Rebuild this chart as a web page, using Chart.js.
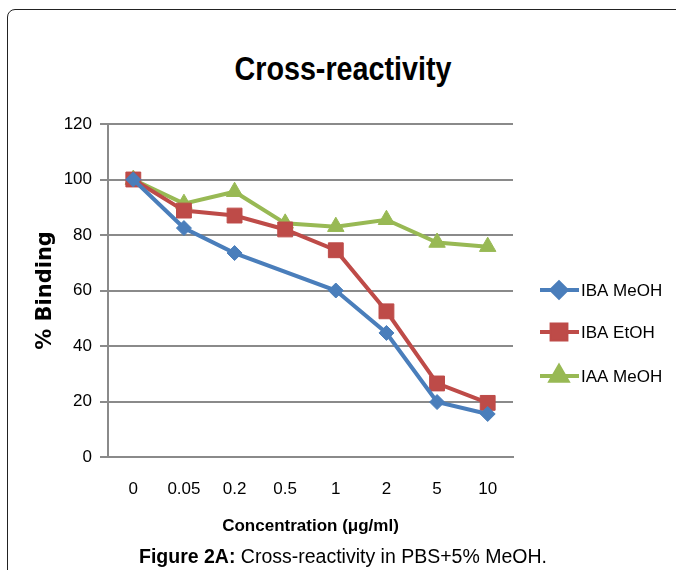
<!DOCTYPE html>
<html>
<head>
<meta charset="utf-8">
<script src="https://cdn.jsdelivr.net/npm/chart.js@4"></script>
<style>
    body { margin: 0; width: 676px; height: 570px; overflow: hidden; background: #fff; position: relative; }
    #frame { position: absolute; left: 7px; top: 9px; width: 720px; height: 620px; border: 1px solid #222; border-top-left-radius: 8px; }
    #wrap { position: absolute; left: 0; top: 0; width: 676px; height: 570px; }
    #title { position: absolute; left: 0; width: 686px; top: 50px; text-align: center;
        font: bold 33px "Liberation Sans", Arial, sans-serif; color: #000;
        transform: scaleX(0.87); transform-origin: 343px 0; }
    #caption { position: absolute; left: 0; width: 686px; top: 545px; text-align: center;
        font: 19.5px "Liberation Sans", Arial, sans-serif; color: #000; }
</style>
</head>
<body>
<div id="frame"></div>
<div id="title">Cross-reactivity</div>
<div id="wrap"><canvas id="crossChart" width="676" height="570"></canvas></div>
<div id="caption"><b>Figure 2A:</b> Cross-reactivity in PBS+5% MeOH.</div>

<script>
/* ================= DATA ================= */

const concentrations = ['0', '0.05', '0.2', '0.5', '1', '2', '5', '10'];

const ibaMeoh = [100, 82.5, 73.5, null, 60, 44.7, 19.8, 15.5];
const ibaEtoh = [100, 88.8, 87, 82, 74.5, 52.5, 26.5, 19.5];
const iaaMeoh = [100, 91.3, 95.6, 84.2, 83, 85.5, 77.3, 75.8];

const yTicks = [0, 20, 40, 60, 80, 100, 120];

const sans = '"Liberation Sans", Arial, sans-serif';

/* ================= LEGEND (line + marker samples) ================= */

const sideLegend = {
    id: 'sideLegend',
    afterDraw(chart) {
        const ctx = chart.ctx;
        const rows = [290, 332, 376];
        chart.data.datasets.forEach(function(ds, i) {
            const y = rows[i];
            ctx.save();
            ctx.strokeStyle = ds.borderColor;
            ctx.lineWidth = 4;
            ctx.beginPath();
            ctx.moveTo(540, y);
            ctx.lineTo(579, y);
            ctx.stroke();
            Chart.helpers.drawPoint(ctx, {
                pointStyle: ds.pointStyle,
                radius: ds.pointRadius,
                borderWidth: 1
            }, 559, y);
            ctx.fillStyle = ds.borderColor;
            ctx.fill();
            ctx.fillStyle = '#000';
            ctx.font = '17px ' + sans;
            ctx.textBaseline = 'middle';
            ctx.fillText(ds.label, 581, y + 1);
            ctx.restore();
        });
    }
};

/* ================= CHART ================= */

new Chart(document.getElementById('crossChart'), {

    type: 'line',

    data: {
        labels: concentrations,
        datasets: [{
            label: 'IBA MeOH',
            data: ibaMeoh,
            borderColor: '#4a7ebb',
            backgroundColor: '#4a7ebb',
            pointStyle: 'rectRot',
            pointRadius: 7.5
        }, {
            label: 'IBA EtOH',
            data: ibaEtoh,
            borderColor: '#be4b48',
            backgroundColor: '#be4b48',
            pointStyle: 'rect',
            pointRadius: 10.5
        }, {
            label: 'IAA MeOH',
            data: iaaMeoh,
            borderColor: '#98b954',
            backgroundColor: '#98b954',
            pointStyle: 'triangle',
            pointRadius: 9.5
        }]
    },

    options: {
        responsive: false,
        animation: false,
        spanGaps: true,
        elements: {
            line: { borderWidth: 4, tension: 0 },
            point: { borderWidth: 1 }
        },
        layout: {
            padding: { top: 124, right: 163, left: 33, bottom: 33 }
        },
        plugins: {
            legend: { display: false },
            tooltip: { enabled: false }
        },
        scales: {
            x: {
                offset: true,
                grid: { display: false, drawTicks: false },
                border: { color: '#8a8a8a', width: 2 },
                ticks: {
                    color: '#000',
                    padding: 22,
                    font: { family: sans, size: 17 }
                },
                title: {
                    display: true,
                    text: 'Concentration (μg/ml)',
                    color: '#000',
                    padding: { top: 0, bottom: 0 },
                    font: { family: sans, size: 17, weight: 'bold' }
                },
                afterFit: function(scale) { scale.height = 570 - 457 - 33; }
            },
            y: {
                min: 0,
                max: 120,
                afterBuildTicks: function(scale) {
                    scale.ticks = yTicks.map(v => ({ value: v }));
                },
                grid: { color: '#8a8a8a', lineWidth: 2, tickLength: 8 },
                border: { color: '#8a8a8a', width: 2 },
                ticks: {
                    color: '#000',
                    padding: 8,
                    font: { family: sans, size: 17 }
                },
                title: {
                    display: true,
                    text: '% Binding',
                    color: '#000',
                    padding: { top: 0, bottom: 0 },
                    font: { family: '"DejaVu Sans", Verdana, sans-serif', size: 21, weight: 'bold' }
                },
                afterFit: function(scale) { scale.width = 108 - 33; }
            }
        }
    },

    plugins: [sideLegend]
});
</script>
</body>
</html>
